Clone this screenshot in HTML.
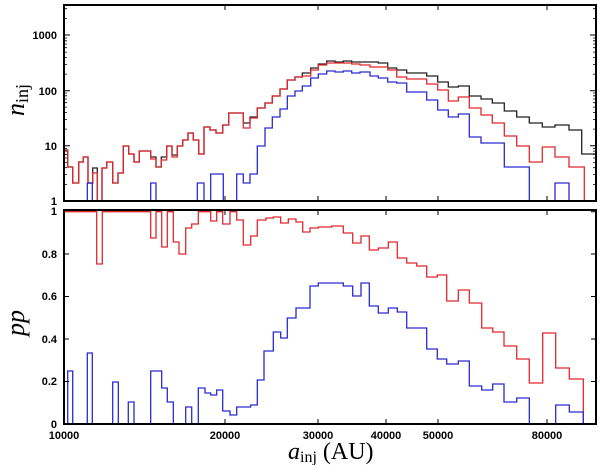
<!DOCTYPE html>
<html><head><meta charset="utf-8"><style>
html,body{margin:0;padding:0;background:#fff}
svg{display:block}
.t{font-family:"Liberation Sans",sans-serif;font-weight:bold;font-size:11px;fill:#000}
</style></head><body>
<svg width="600" height="465" viewBox="0 0 600 465" xmlns="http://www.w3.org/2000/svg">
<defs><clipPath id="c1"><rect x="64" y="5" width="532" height="196"/></clipPath>
<clipPath id="c2"><rect x="64" y="210" width="532" height="214"/></clipPath></defs>
<g fill="none" stroke-width="1.3" clip-path="url(#c1)">
<path stroke="#222" d="M64 150H67.7V167H72.7V183H78.7V162H83.3V157H88V183H92.7V168H97.3V205H102V168H106.7V162H112.7V183H118V173H123.3V146H128.7V154H134V162H139.3V151H145.3V151H150.7V157H156V167H161.3V157H166.7V146H172V155H177.3V146H182.7V140H188V133H193.3V140H198.7V154H204V127H210V130H216V133H222.7V125H228.7V113H243.3V123H250V117H257.3V108H265V103H272.3V96H280V89H287.3V80H295V77H302.3V73H310.7V68H318.3V64H326.7V61H335V62H343.3V61H351.7V62H378.3V63H387.7V68H396.7V70H406.7V73H426.7V76H437.7V82H448.3V87H458.3V86H469.3V96H481V99H492.3V103H504.3V111H516.7V117H529.3V123H542.3V127H555V125H569V130H581.7V154H597"/>
<path stroke="#e0282c" d="M64 150H67.7V167H72.7V183H78.7V162H83.3V157H88V183H92.7V173H97.3V205H102V168H106.7V162H112.7V183H118V173H123.3V146H128.7V154H134V162H139.3V151H145.3V151H150.7V159H156V167H161.3V160H166.7V146H172V157H177.3V146H182.7V140H188V133H193.3V140H198.7V154H204V127H210V130H216V133H222.7V125H228.7V113H243.3V128H250V118H257.3V108H265V103H272.3V96H280V89H287.3V80H295V77H302.3V76H310.7V70H318.3V65H326.7V63H351.7V64H360V65H370V67H387.7V70H396.7V77H406.7V79H426.7V84H437.7V90H448.3V101H458.3V97H469.3V108H481V115H492.3V123H504.3V136H516.7V146H529.3V162H542.3V147H555V157H569V167H584.3V205"/>
<path stroke="#2a2ad0" d="M87.3 205V183H92.3V205M150.7 205V183H156V205M197.3 205V183H204V205M210.7 205V174H223.3V205M236.7 205V174H243.3V183H250V174H257.3V146H265V128H272.3V117H280V109H287.3V96H295V91H302.3V86H310.7V78H318.3V74H326.7V71H335V72H343.3V71H351.7V73H360V72H370V76H378.3V78H387.7V82H396.7V83H406.7V92H426.7V100H437.7V110H448.3V117H458.3V114H469.3V137H481V143H504.3V167H529.3V205M555 205V183H569V205"/>
</g>
<g fill="none" stroke-width="1.3" clip-path="url(#c2)">
<path stroke="#e0282c" d="M64 211.7H96.7V264H102.3V211.7H150.7V238H156V211.7H161.7V247H167.3V211.7H173.3V242H179V254H185.7V228H191.7V224H198.3V211.7H210.7V221H216.7V211.7H222.7V224H230V211.7H236.7V220H243.3V245H250.7V236H257.3V220H266V218H273.3V217H280.7V223H288.3V219H296V222H302.7V232H310V228H318.3V227H331.7V226H343.3V233H352.7V243H361V236H369.3V250H378.3V248H388.3V242H397.3V258H406.7V263H416.7V266H426.7V277H437.3V275H446.7V301H458.3V290H469.3V303H481.7V328H492.7V332H504V346H516.7V359H529.3V383H542.7V333H555.7V368H569.3V379H583.3V426"/>
<path stroke="#2a2ad0" d="M67.7 426V371H72.7V426M87.3 426V353H92.3V426M112.7 426V382H118.3V426M128.3 426V402H134V426M150.7 426V371H161.7V388H167.3V402H173.3V426M185.7 426V407H191.7V426M198.3 426V388H205V393H210.7V395H216.7V390H222.7V411H230V415H236.7V407H250.7V405H257.3V380H264V351H273.3V332H280.7V338H287.3V318H296V308H310V286H318.3V283H343.3V286H352.7V296H361V283H369.3V306H378.3V313H388.3V308H397.3V312H406.7V328H426.7V349H437.3V359H446.7V364H458.3V361H469.3V386H481.7V390H492.7V384H504V402H516.7V398H529.3V426M555.7 426V405H569.3V412H583.3V426"/>
</g>
<g stroke="#000" fill="none">
<rect x="64" y="5" width="532" height="196" stroke-width="2"/>
<rect x="64" y="210" width="532" height="214" stroke-width="2"/>
<path stroke-width="1" d="
M225 5v5M318 5v5M386 5v5M438 5v5M547 5v5M225 201v-5M318 201v-5M386 201v-5M438 201v-5M547 201v-5
M225 210v5M318 210v5M386 210v5M438 210v5M547 210v5M225 424v-5M318 424v-5M386 424v-5M438 424v-5M547 424v-5
M64 35h6M64 90.7h6M64 145.7h6M596 35h-6M596 90.7h-6M596 145.7h-6
M64 254h5M64 296.5h5M64 339h5M64 381.5h5M596 254h-5M596 296.5h-5M596 339h-5M596 381.5h-5M596 211.7h-5
"/>
<path stroke-width="0.8" d="
M64 184.4h3M64 174.6h3M64 167.7h3M64 162.4h3M64 158h3M64 154.3h3M64 151.1h3M64 148.3h3
M64 129.1h3M64 119.4h3M64 112.4h3M64 107.1h3M64 102.7h3M64 99h3M64 95.8h3M64 93h3
M64 74.1h3M64 64.4h3M64 57.4h3M64 52.1h3M64 47.7h3M64 44h3M64 40.8h3M64 38h3
M64 18.4h3M64 8.7h3
M596 184.4h-3M596 174.6h-3M596 167.7h-3M596 162.4h-3M596 158h-3M596 154.3h-3M596 151.1h-3M596 148.3h-3
M596 129.1h-3M596 119.4h-3M596 112.4h-3M596 107.1h-3M596 102.7h-3M596 99h-3M596 95.8h-3M596 93h-3
M596 74.1h-3M596 64.4h-3M596 57.4h-3M596 52.1h-3M596 47.7h-3M596 44h-3M596 40.8h-3M596 38h-3
M596 18.4h-3M596 8.7h-3"/>
</g>
<g class="t" text-anchor="end">
<text x="57" y="39">1000</text><text x="57" y="95">100</text><text x="57" y="150">10</text><text x="57" y="205">1</text>
<text x="57" y="215">1</text><text x="57" y="258">0.8</text><text x="57" y="300">0.6</text><text x="57" y="343">0.4</text><text x="57" y="385">0.2</text><text x="57" y="428">0</text>
</g>
<g class="t" text-anchor="middle">
<text x="64" y="439">10000</text><text x="225" y="439">20000</text><text x="318" y="439">30000</text><text x="386" y="439">40000</text><text x="438" y="439">50000</text><text x="547" y="439">80000</text>
</g>
<text transform="translate(24,116) rotate(-90)" font-family="Liberation Serif,serif" font-size="26" font-style="italic" fill="#000">n<tspan font-style="normal" font-size="18" dy="4">inj</tspan></text>
<text transform="translate(24,336) rotate(-90)" font-family="Liberation Serif,serif" font-size="26" font-style="italic" fill="#000">pp</text>
<text x="288" y="459" font-family="Liberation Serif,serif" font-size="24" fill="#000"><tspan font-style="italic">a</tspan><tspan font-size="16" dy="3">inj</tspan><tspan dy="-3"> (AU)</tspan></text>
</svg>
</body></html>
